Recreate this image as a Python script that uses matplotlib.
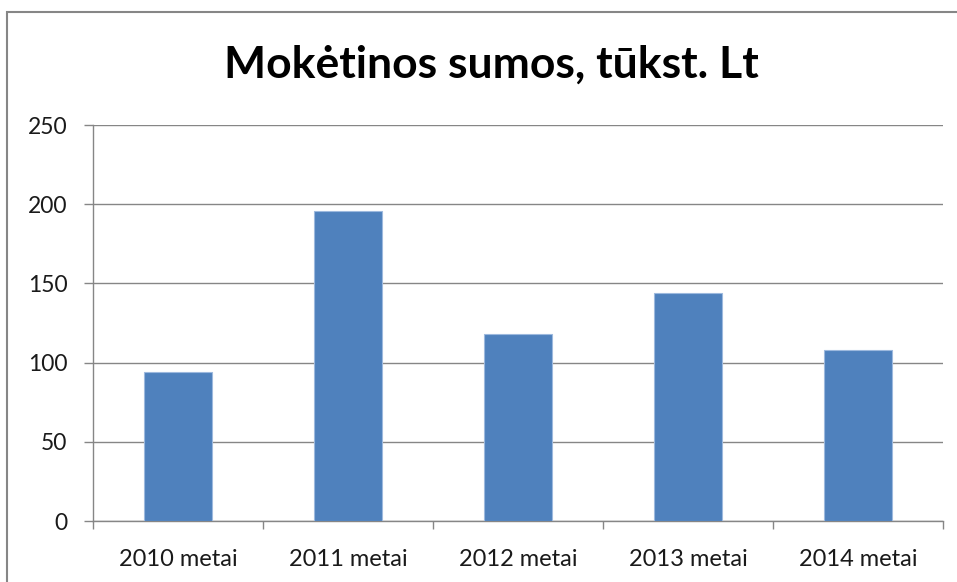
import matplotlib.pyplot as plt
import numpy as np
from matplotlib.patches import Rectangle

# data
years = ["2010 metai", "2011 metai", "2012 metai", "2013 metai", "2014 metai"]
values = [94, 196, 118, 144, 108]
yticks = [0, 50, 100, 150, 200, 250]

plt.rcParams['font.family'] = ['Lato', 'DejaVu Sans']

fig = plt.figure(figsize=(9.57, 5.82), dpi=100)
ax = fig.add_axes([93 / 957, 1 - 521 / 582, 850 / 957, 396 / 582])

x = np.arange(len(years))
ax.bar(x, values, width=0.4, color="#4F81BD", edgecolor="#9DB9DE", linewidth=0.8, zorder=3)

ax.set_xlim(-0.5, len(years) - 0.5)
ax.set_ylim(0, 250)
ax.set_yticks(yticks)
ax.set_yticklabels([str(v) for v in yticks])
ax.set_xticks(x)
ax.set_xticklabels(years)
ax.set_xticks(np.arange(len(years) + 1) - 0.5, minor=True)

grid_col = "#868686"
ax.yaxis.grid(True, color=grid_col, linewidth=1.0, zorder=0)
for s in ["top", "right"]:
    ax.spines[s].set_visible(False)
for s in ["left", "bottom"]:
    ax.spines[s].set_color(grid_col)
    ax.spines[s].set_linewidth(1.0)

ax.tick_params(axis="y", length=6.5, width=1.0, color=grid_col, pad=12, labelsize=16.5, labelcolor="#1a1a1a")
ax.tick_params(axis="x", which="major", length=0, pad=20, labelsize=17, labelcolor="#1a1a1a")
ax.tick_params(axis="x", which="minor", length=6, width=1.0, color=grid_col)

fig.text(491 / 957, 1 - 65 / 582, "Mokėtinos sumos, tūkst. Lt", ha="center", va="center",
         fontsize=32, fontweight="bold", color="black")

# outer chart frame (cropped at right and bottom)
fig.patches.append(Rectangle((7 / 957, -0.1), 1.2, 1 - 12 / 582 + 0.1, transform=fig.transFigure,
                             fill=False, edgecolor="#868686", linewidth=1.5))

fig.savefig("out.png", dpi=100)
